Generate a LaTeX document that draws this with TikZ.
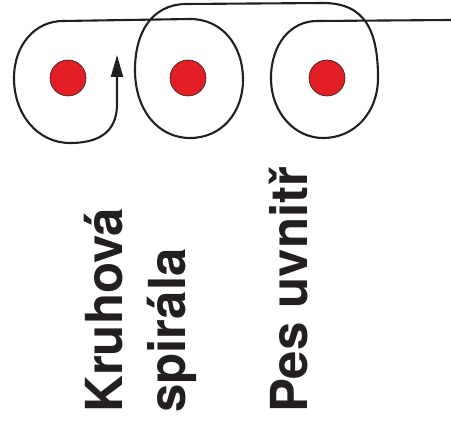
\documentclass[tikz,border=0pt]{standalone}
\usepackage{fontspec}
\setmainfont{TeX Gyre Heros}
\usetikzlibrary{arrows.meta}
\definecolor{inkblack}{HTML}{231F20}
\definecolor{dotred}{HTML}{E31E24}
\tikzset{
  reddot/.style={circle, fill=dotred, draw=inkblack, line width=0.6pt, minimum size=36pt, inner sep=0pt},
  spiral/.style={draw=inkblack, line width=2.1pt, line join=round},
  label/.style={rotate=90, anchor=base west, inner sep=0pt, font=\fontsize{51}{60}\selectfont\bfseries, text=inkblack}
}
\begin{document}
\begin{tikzpicture}[x=1pt, y=-1pt]
\useasboundingbox (0,0) rectangle (451,428);
\node[reddot] (d1) at (68,78) {};
\node[reddot] (d2) at (188,78) {};
\node[reddot] (d3) at (327,78) {};
\coordinate (start) at (451,20);
\coordinate (tip) at (117,55);
\draw[spiral, -{Triangle[length=22pt, width=12pt]}]
  (start) -- (317,21)
  .. controls (290,21) and (271,45) .. (271,78)
  .. controls (271,113) and (295,138) .. (323,138)
  .. controls (355,138) and (378,112) .. (378,78)
  .. controls (378,32) and (366,3) .. (323,3)
  -- (185,4)
  .. controls (152,5) and (135,32) .. (135,70)
  .. controls (135,110) and (158,138) .. (190,138)
  .. controls (222,138) and (243,112) .. (243,80)
  .. controls (243,45) and (222,19) .. (190,19)
  -- (63,21)
  .. controls (35,21) and (14,45) .. (14,78)
  .. controls (14,115) and (38,143) .. (70,143)
  .. controls (106,143) and (117,126) .. (117,104)
  -- (tip);
\node[label] (t1) at (122,413) {Kruhová};
\node[label] (t2) at (185,413) {spirála};
\node[label] (t3) at (307,413) {Pes uvnitř};
\end{tikzpicture}
\end{document}
